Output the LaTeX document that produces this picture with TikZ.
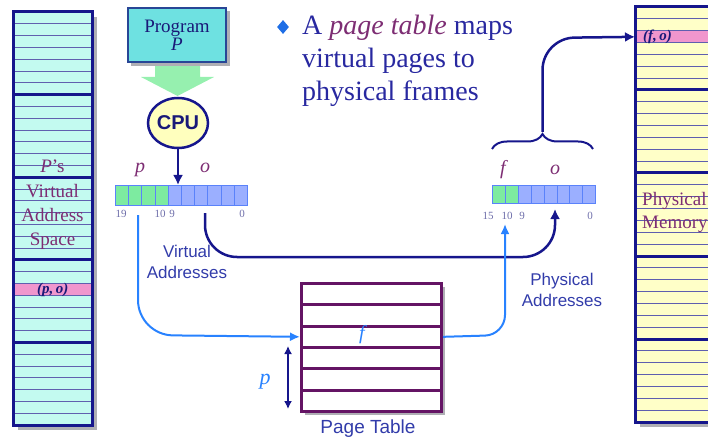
\documentclass[tikz,border=0pt]{standalone}
\usepackage{fontspec}
\setmainfont{Liberation Serif}
\setsansfont{Liberation Sans}
\usetikzlibrary{decorations.pathreplacing,arrows.meta,shapes.geometric}

\definecolor{navy}{RGB}{22,22,140}
\definecolor{navytext}{RGB}{25,25,120}
\definecolor{vcyan}{RGB}{195,250,240}
\definecolor{pyellow}{RGB}{255,255,200}
\definecolor{rowline}{RGB}{95,95,175}
\definecolor{pinkrow}{RGB}{240,150,205}
\definecolor{maroon}{RGB}{125,45,115}
\definecolor{textblue}{RGB}{40,40,160}
\definecolor{labelblue}{RGB}{50,60,170}
\definecolor{lightblue}{RGB}{40,130,255}
\definecolor{ptpurple}{RGB}{100,20,100}
\definecolor{progfill}{RGB}{110,225,225}
\definecolor{progedge}{RGB}{40,70,150}
\definecolor{arrowgreen}{RGB}{150,240,175}
\definecolor{cpuyellow}{RGB}{255,255,190}
\definecolor{cellgreen}{RGB}{125,235,160}
\definecolor{cellblue}{RGB}{155,175,255}
\definecolor{celledge}{RGB}{90,130,250}
\definecolor{bitgray}{RGB}{110,110,170}
\definecolor{shadowgray}{RGB}{175,175,180}
\definecolor{bulletblue}{RGB}{30,110,230}

\begin{document}
\begin{tikzpicture}[x=1pt,y=-1pt,
  thinrow/.style={draw=rowline,line width=0.9pt},
  thickrow/.style={draw=navy,line width=3pt},
  colborder/.style={draw=navy,line width=3pt},
  collabel/.style={anchor=base,inner sep=0,text=maroon,font=\fontsize{19}{19}\selectfont},
  cellbox/.style={draw=celledge,line width=1pt,anchor=north west,inner sep=0},
  bitlabel/.style={anchor=base,inner sep=0,text=bitgray,font=\fontsize{11}{11}\selectfont},
  fieldlabel/.style={anchor=base,inner sep=0,text=maroon,font=\fontsize{20}{20}\selectfont\itshape},
  sanslabel/.style={anchor=base,inner sep=0,text=labelblue,font=\sffamily\fontsize{17}{17}\selectfont},
  ptrow/.style={draw=ptpurple,line width=3pt,fill=white,anchor=north west,inner sep=0,
    minimum width=140pt,minimum height=21.33pt},
  navyline/.style={draw=navy,line width=2.5pt},
  navyarrow/.style={navyline,-{Latex[length=10pt,width=10pt]}},
  bluearrow/.style={draw=lightblue,line width=2pt,-{Latex[length=10pt,width=9pt]}},
  bodytext/.style={anchor=base west,inner sep=0,text=textblue,font=\fontsize{28}{33}\selectfont}
]
\useasboundingbox (0,0) rectangle (708,438);
\clip (0,0) rectangle (708,438);

% ---------- virtual address space (left column) ----------
\fill[shadowgray] (18,17) rectangle (97,430);
\node[fill=vcyan,inner sep=0,minimum width=79pt,minimum height=413pt,anchor=north west] (vas) at (13,12) {};
\node[fill=pinkrow,inner sep=0,minimum width=79pt,minimum height=11.8pt,anchor=north west] (vaspink) at (13,283.4) {};
\foreach \i in {1,...,34} \draw[thinrow] (13,{12+\i*11.8}) -- (92,{12+\i*11.8});
\foreach \k in {1,...,4} \draw[thickrow] (13,{12+\k*82.6}) -- (92,{12+\k*82.6});
\draw[colborder] (vas.north west) rectangle (vas.south east);
\node[collabel] (vas1) at (52.5,173) {\textit{P}’s};
\node[collabel] (vas2) at (52.5,197) {Virtual};
\node[collabel] (vas3) at (52.5,221) {Address};
\node[collabel] (vas4) at (52.5,245) {Space};
\node[inner sep=0,text=navytext,font=\fontsize{15}{15}\selectfont\bfseries\itshape] (po) at (vaspink.center) {(p,\,o)};

% ---------- physical memory (right column) ----------
\fill[shadowgray] (640,12) rectangle (740,427);
\node[fill=pyellow,inner sep=0,minimum width=100pt,minimum height=415pt,anchor=north west] (pm) at (635,7) {};
\node[fill=pinkrow,inner sep=0,minimum width=100pt,minimum height=11.86pt,anchor=north west] (pmpink) at (635,30.71) {};
\foreach \i in {1,...,34} \draw[thinrow] (635,{7+\i*11.857}) -- (735,{7+\i*11.857});
\foreach \k in {1,...,4} \draw[thickrow] (635,{7+\k*83}) -- (735,{7+\k*83});
\draw[colborder] (pm.north west) rectangle (pm.south east);
\node[inner sep=0,anchor=west,text=navytext,font=\fontsize{15}{15}\selectfont\bfseries\itshape] (fo) at (643,36.6) {(f,\,o)};
\node[collabel,anchor=base west] (pm1) at (642,205) {Physical};
\node[collabel,anchor=base west] (pm2) at (642,228) {Memory};

% ---------- program and CPU ----------
\fill[arrowgreen] (155,60) -- (200,60) -- (200,77) -- (214,77) -- (177.5,96) -- (141,77) -- (155,77) -- cycle;
\fill[shadowgray] (131,11) rectangle (230,66);
\node[draw=progedge,line width=1.5pt,fill=progfill,minimum width=98pt,minimum height=54pt,
  inner sep=0] (prog) at (177,35) {};
\node[inner sep=0,align=center,text=navytext,font=\fontsize{19}{19}\selectfont,anchor=base] (progname) at (177,33) {Program};
\node[inner sep=0,text=navytext,font=\fontsize{19}{19}\selectfont\itshape,anchor=base] (progp) at (177,51) {P};
\node[ellipse,draw=navy,line width=2.5pt,fill=cpuyellow,minimum width=60pt,minimum height=50pt,inner sep=0,
  text=navytext,font=\sffamily\bfseries\fontsize{20}{20}\selectfont] (cpu) at (178,123) {CPU};

% ---------- virtual address register ----------
\foreach \i in {0,...,3} \node[cellbox,fill=cellgreen,minimum width=13.2pt,minimum height=20pt] (v\i) at ({115+\i*13.2},185) {};
\foreach \i in {4,...,9} \node[cellbox,fill=cellblue,minimum width=13.2pt,minimum height=20pt] (v\i) at ({115+\i*13.2},185) {};
\node[fieldlabel] (vp) at (140,173) {p};
\node[fieldlabel] (vo) at (205,173) {o};
\node[bitlabel] (vb19) at (121,218) {19};
\node[bitlabel] (vb10) at (160,218) {10};
\node[bitlabel] (vb9) at (172,218) {9};
\node[bitlabel] (vb0) at (242,218) {0};
\draw[navyarrow] (cpu.south) -- (cpu.south |- v4.north);

% ---------- physical address register ----------
\foreach \i in {0,...,1} \node[cellbox,fill=cellgreen,minimum width=12.9pt,minimum height=18pt] (f\i) at ({492+\i*12.9},185) {};
\foreach \i in {2,...,7} \node[cellbox,fill=cellblue,minimum width=12.9pt,minimum height=18pt] (f\i) at ({492+\i*12.9},185) {};
\node[fieldlabel] (pf) at (503,175) {f};
\node[fieldlabel] (pfo) at (555,175) {o};
\node[bitlabel] (pb15) at (488,219) {15};
\node[bitlabel] (pb10) at (507,219) {10};
\node[bitlabel] (pb9) at (522,219) {9};
\node[bitlabel] (pb0) at (590,219) {0};

% ---------- page table ----------
\fill[shadowgray] (305,287) rectangle (445,415);
\foreach \i in {1,...,6} \node[ptrow] (r\i) at (300,{282+(\i-1)*21.33}) {};
\node[inner sep=0,text=lightblue,font=\fontsize{20}{20}\selectfont\itshape] (ptf) at (362,335) {f};
\node[sanslabel,font=\sffamily\fontsize{19}{19}\selectfont] (ptlabel) at (368,433) {Page Table};
\coordinate (ptop) at (288,346);
\coordinate (pbot) at (288,409);
\draw[draw=navy,line width=1.5pt,{Latex[length=8pt,width=8pt]}-{Latex[length=8pt,width=8pt]}] (ptop) -- (pbot);
\node[inner sep=0,anchor=base,text=lightblue,font=\fontsize{22}{22}\selectfont\itshape] (pidx) at (265,384) {p};

% ---------- address labels ----------
\node[sanslabel] (va1) at (187,257) {Virtual};
\node[sanslabel] (va2) at (187,278) {Addresses};
\node[sanslabel] (pa1) at (562,285) {Physical};
\node[sanslabel] (pa2) at (562,306) {Addresses};

% ---------- connectors ----------
\coordinate (ptap) at (138,215);
\draw[bluearrow,rounded corners=35pt] (ptap) -- (138,335) -- (r3.west);
\coordinate (otap) at (205,213);
\coordinate (ophys) at (555,209);
\draw[navyarrow,rounded corners=32pt] (otap) -- (205,257) -- (555,257) -- (ophys);
\draw[bluearrow,rounded corners=20pt] (r3.east) -- (505,335) -- (505,224);

% brace over the physical address and the arrow into memory
\draw[navyline,line width=2pt,decorate,decoration={brace,amplitude=15pt}] (492,149) -- (593,149);
\coordinate (btip) at (542.5,132);
\draw[navyarrow,rounded corners=32pt] (btip) -- (542.5,38) -- (pmpink.west);

% ---------- caption text ----------
\node[diamond,fill=bulletblue,minimum width=12pt,minimum height=14pt,inner sep=0] (bullet) at (283,27) {};
\node[bodytext] (t1) at (302,35) {A \textcolor{maroon}{\textit{page table}} maps};
\node[bodytext] (t2) at (302,68) {virtual pages to};
\node[bodytext] (t3) at (302,101) {physical frames};
\end{tikzpicture}
\end{document}
